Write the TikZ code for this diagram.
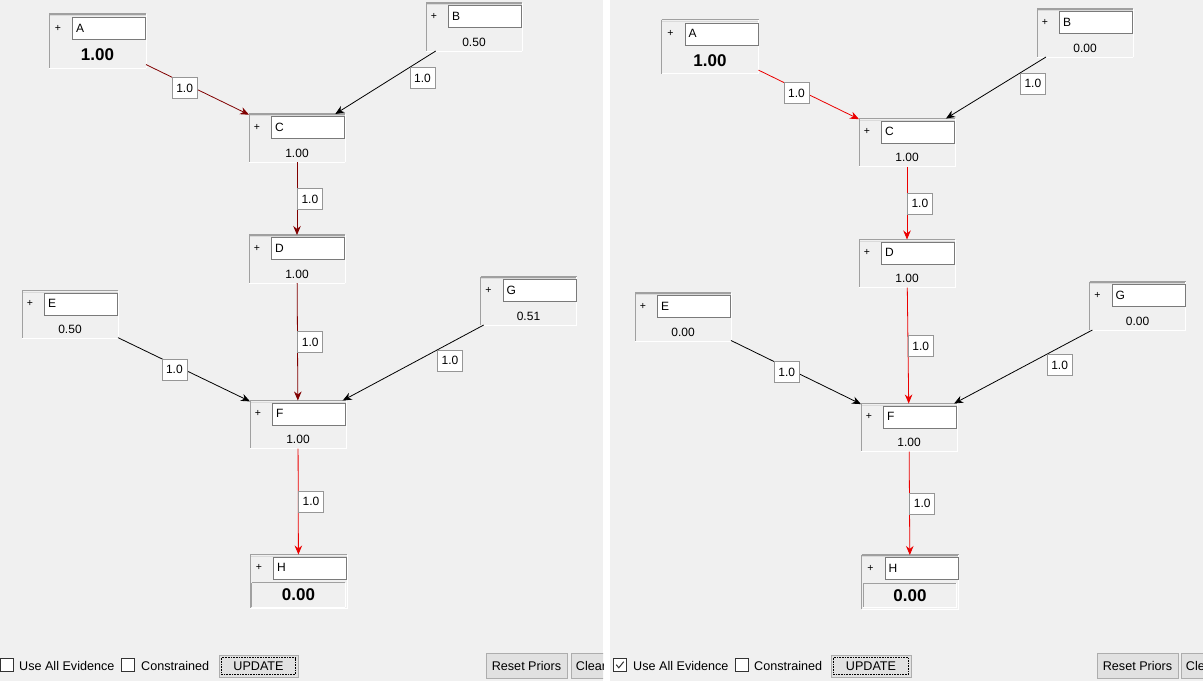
\documentclass[tikz,border=0pt]{standalone}
\usepackage{fontspec}
\setmainfont{Liberation Sans}
\usetikzlibrary{arrows.meta,positioning}
\definecolor{panelBg}{RGB}{240,240,240}
\definecolor{rimDark}{RGB}{160,160,160}
\definecolor{rimLight}{RGB}{218,218,218}
\definecolor{boxLine}{RGB}{122,122,122}
\definecolor{wtLine}{RGB}{150,150,150}
\definecolor{linkDark}{RGB}{128,0,0}
\definecolor{linkRed}{RGB}{235,0,0}
\definecolor{btnFill}{RGB}{225,225,225}
\definecolor{btnLine}{RGB}{173,173,173}
\definecolor{chkLine}{RGB}{51,51,51}
\newcommand{\guifont}[1]{\fontsize{#1pt}{#1pt}\selectfont}

\begin{document}
\begin{tikzpicture}[
					x=1pt,y=-1pt,
					>=Stealth,
					bn/.style={
						rectangle,
						minimum width=96pt,
						minimum height=48pt,
						inner sep=0pt,
						outer sep=0pt,
						fill=panelBg,
						append after command={\pgfextra{\let\bnlast\tikzlastnode}
							(\bnlast.north west) edge[draw=rimDark,line width=1.2pt] (\bnlast.north east)
							([yshift=-1.6pt]\bnlast.north west) edge[draw=rimLight,line width=1pt] ([yshift=-1.6pt]\bnlast.north east)
							(\bnlast.north west) edge[draw=rimDark,line width=0.6pt] (\bnlast.south west)
							(\bnlast.north east) edge[draw=white,line width=1pt] (\bnlast.south east)
							(\bnlast.south west) edge[draw=white,line width=1pt] (\bnlast.south east)}
					},
					bnbig/.style={bn,minimum width=97pt,minimum height=54pt},
					nm/.style={
						draw=boxLine,
						fill=white,
						line width=0.7pt,
						minimum height=22pt,
						text width=66pt,
						inner xsep=3.5pt,
						inner ysep=0pt,
						align=left,
						anchor=north east,
						font=\guifont{12},
						label={[inner sep=0pt,font=\guifont{10.5},label distance=11pt]left:+}
					},
					val/.style={inner sep=0pt,font=\guifont{12}},
					valbig/.style={inner sep=0pt,font=\guifont{17}\bfseries},
					sunk/.style={
						minimum width=93pt,
						minimum height=24pt,
						inner sep=0pt,
						fill=panelBg,
						font=\guifont{17}\bfseries,
						append after command={\pgfextra{\let\sklast\tikzlastnode}
							(\sklast.north west) edge[draw=rimDark,line width=1pt] (\sklast.north east)
							(\sklast.north west) edge[draw=rimDark,line width=1pt] (\sklast.south west)
							(\sklast.south west) edge[draw=white,line width=1pt] (\sklast.south east)
							(\sklast.north east) edge[draw=white,line width=1pt] (\sklast.south east)}
					},
					lnk/.style={-{Stealth[length=9pt,width=7.5pt]},line width=0.8pt},
					wt/.style={
						draw=wtLine,
						fill=white,
						text=black,
						line width=0.7pt,
						minimum width=25pt,
						minimum height=21pt,
						inner sep=0pt,
						anchor=north west,
						font=\guifont{12}
					},
					chk/.style={draw=chkLine,fill=white,line width=0.8pt,minimum size=13pt,inner sep=0pt},
					txt/.style={anchor=west,inner sep=0pt,font=\guifont{12.6}},
					btn/.style={draw=btnLine,fill=btnFill,line width=0.8pt,inner sep=0pt,font=\guifont{12.6}}
					]
					\useasboundingbox (0,0) rectangle (1203,681);
					% panels
					\fill[panelBg] (0,0) rectangle (1203,681);
					\fill[white] (603,0) rectangle (610,681);
					
					% left panel
					\node[bnbig] (a1) at (97.5,41) {};
					\node[nm] (a1n) at ([yshift=-3pt]a1.north east) {A};
					\node[valbig] (a1v) at ([yshift=-14pt]a1.center) {1.00};
					\node[bn] (b1) at (474,27) {};
					\node[nm] (b1n) at ([yshift=-2pt]b1.north east) {B};
					\node[val] (b1v) at ([yshift=-15pt]b1.center) {0.50};
					\node[bn] (c1) at (297,138) {};
					\node[nm] (c1n) at ([yshift=-2pt]c1.north east) {C};
					\node[val] (c1v) at ([yshift=-15pt]c1.center) {1.00};
					\node[bn] (d1) at (297,259) {};
					\node[nm] (d1n) at ([yshift=-2pt]d1.north east) {D};
					\node[val] (d1v) at ([yshift=-15pt]d1.center) {1.00};
					\node[bn] (e1) at (70,314.5) {};
					\node[nm] (e1n) at ([yshift=-2pt]e1.north east) {E};
					\node[val] (e1v) at ([yshift=-15pt]e1.center) {0.50};
					\node[bn] (g1) at (528.5,301) {};
					\node[nm] (g1n) at ([yshift=-2pt]g1.north east) {G};
					\node[val] (g1v) at ([yshift=-15pt]g1.center) {0.51};
					\node[bn] (f1) at (298,424.5) {};
					\node[nm] (f1n) at ([yshift=-2pt]f1.north east) {F};
					\node[val] (f1v) at ([yshift=-15pt]f1.center) {1.00};
					\node[bnbig] (h1) at (298.5,581.5) {};
					\node[nm] (h1n) at ([yshift=-2pt]h1.north east) {H};
					\node[sunk] (h1v) at ([yshift=-13.5pt]h1.center) {0.00};
					
					\draw[lnk,linkDark] (a1) -- node[wt,pos=0.25] {1.0} (c1);
					\draw[lnk,black] (b1) -- node[wt,pos=0.26] {1.0} (c1);
					\draw[lnk,linkDark] (c1) -- node[wt,pos=0.36] {1.0} (d1);
					\draw[lnk,linkDark] (d1) -- node[wt,pos=0.41] {1.0} (f1);
					\draw[lnk,black] (e1) -- node[wt,pos=0.33] {1.0} (f1);
					\draw[lnk,black] (g1) -- node[wt,pos=0.33] {1.0} (f1);
					\draw[lnk,linkRed] (f1) -- node[wt,pos=0.40] {1.0} (h1);
					
					% right panel
					\node[bnbig] (a2) at (710,46.5) {};
					\node[nm] (a2n) at ([yshift=-3pt]a2.north east) {A};
					\node[valbig] (a2v) at ([yshift=-14pt]a2.center) {1.00};
					\node[bn] (b2) at (1085,33) {};
					\node[nm] (b2n) at ([yshift=-2pt]b2.north east) {B};
					\node[val] (b2v) at ([yshift=-15pt]b2.center) {0.00};
					\node[bn] (c2) at (907,142.5) {};
					\node[nm] (c2n) at ([yshift=-2pt]c2.north east) {C};
					\node[val] (c2v) at ([yshift=-15pt]c2.center) {1.00};
					\node[bn] (d2) at (907,263.5) {};
					\node[nm] (d2n) at ([yshift=-2pt]d2.north east) {D};
					\node[val] (d2v) at ([yshift=-15pt]d2.center) {1.00};
					\node[bn] (e2) at (683,317) {};
					\node[nm] (e2n) at ([yshift=-2pt]e2.north east) {E};
					\node[val] (e2v) at ([yshift=-15pt]e2.center) {0.00};
					\node[bn] (g2) at (1137.5,306) {};
					\node[nm] (g2n) at ([yshift=-2pt]g2.north east) {G};
					\node[val] (g2v) at ([yshift=-15pt]g2.center) {0.00};
					\node[bn] (f2) at (909,427.5) {};
					\node[nm] (f2n) at ([yshift=-2pt]f2.north east) {F};
					\node[val] (f2v) at ([yshift=-15pt]f2.center) {1.00};
					\node[bnbig] (h2) at (910,582) {};
					\node[nm] (h2n) at ([yshift=-2pt]h2.north east) {H};
					\node[sunk] (h2v) at ([yshift=-13.5pt]h2.center) {0.00};
					
					\draw[lnk,linkRed] (a2) -- node[wt,pos=0.25] {1.0} (c2);
					\draw[lnk,black] (b2) -- node[wt,pos=0.26] {1.0} (c2);
					\draw[lnk,linkRed] (c2) -- node[wt,pos=0.36] {1.0} (d2);
					\draw[lnk,linkRed] (d2) -- node[wt,pos=0.41] {1.0} (f2);
					\draw[lnk,black] (e2) -- node[wt,pos=0.33] {1.0} (f2);
					\draw[lnk,black] (g2) -- node[wt,pos=0.33] {1.0} (f2);
					\draw[lnk,linkRed] (f2) -- node[wt,pos=0.40] {1.0} (h2);
					
					% bottom bars
					\node[chk] (k1) at (6.5,665) {};
					\node[txt] (k1t) at (19,666) {Use All Evidence};
					\node[chk] (k3) at (128,665) {};
					\node[txt] (k3t) at (141,666) {Constrained};
					\node[btn,minimum width=79pt,minimum height=22pt] (u1) at (258.5,666) {UPDATE};
					\draw[black,densely dotted,line width=0.6pt] ([shift={(3pt,-3pt)}]u1.north west) rectangle ([shift={(-3pt,3pt)}]u1.south east);
					\node[btn,minimum width=81pt,minimum height=25pt] (r1) at (526.5,665.5) {Reset Priors};
					\begin{scope}
						\clip (0,0) rectangle (603,681);
						\node[btn,minimum width=40pt,minimum height=25pt] (x1) at (591,665.5) {Clear};
					\end{scope}
					
					\node[chk] (k2) at (620,665) {};
					\draw[chkLine,line width=1pt] ([shift={(-3.8pt,0.3pt)}]k2.center) -- ([shift={(-1.2pt,-2.8pt)}]k2.center) -- ([shift={(3.8pt,3.4pt)}]k2.center);
					\node[txt] (k2t) at (633,666) {Use All Evidence};
					\node[chk] (k4) at (742,665) {};
					\node[txt] (k4t) at (754,666) {Constrained};
					\node[btn,minimum width=80pt,minimum height=22pt] (u2) at (871,666) {UPDATE};
					\draw[black,densely dotted,line width=0.6pt] ([shift={(3pt,-3pt)}]u2.north west) rectangle ([shift={(-3pt,3pt)}]u2.south east);
					\node[btn,minimum width=81pt,minimum height=25pt] (r2) at (1137.5,665.5) {Reset Priors};
					\begin{scope}
						\clip (610,0) rectangle (1203,681);
						\node[btn,minimum width=40pt,minimum height=25pt] (x2) at (1201,665.5) {Clear};
					\end{scope}
					
				\end{tikzpicture}
\end{document}
